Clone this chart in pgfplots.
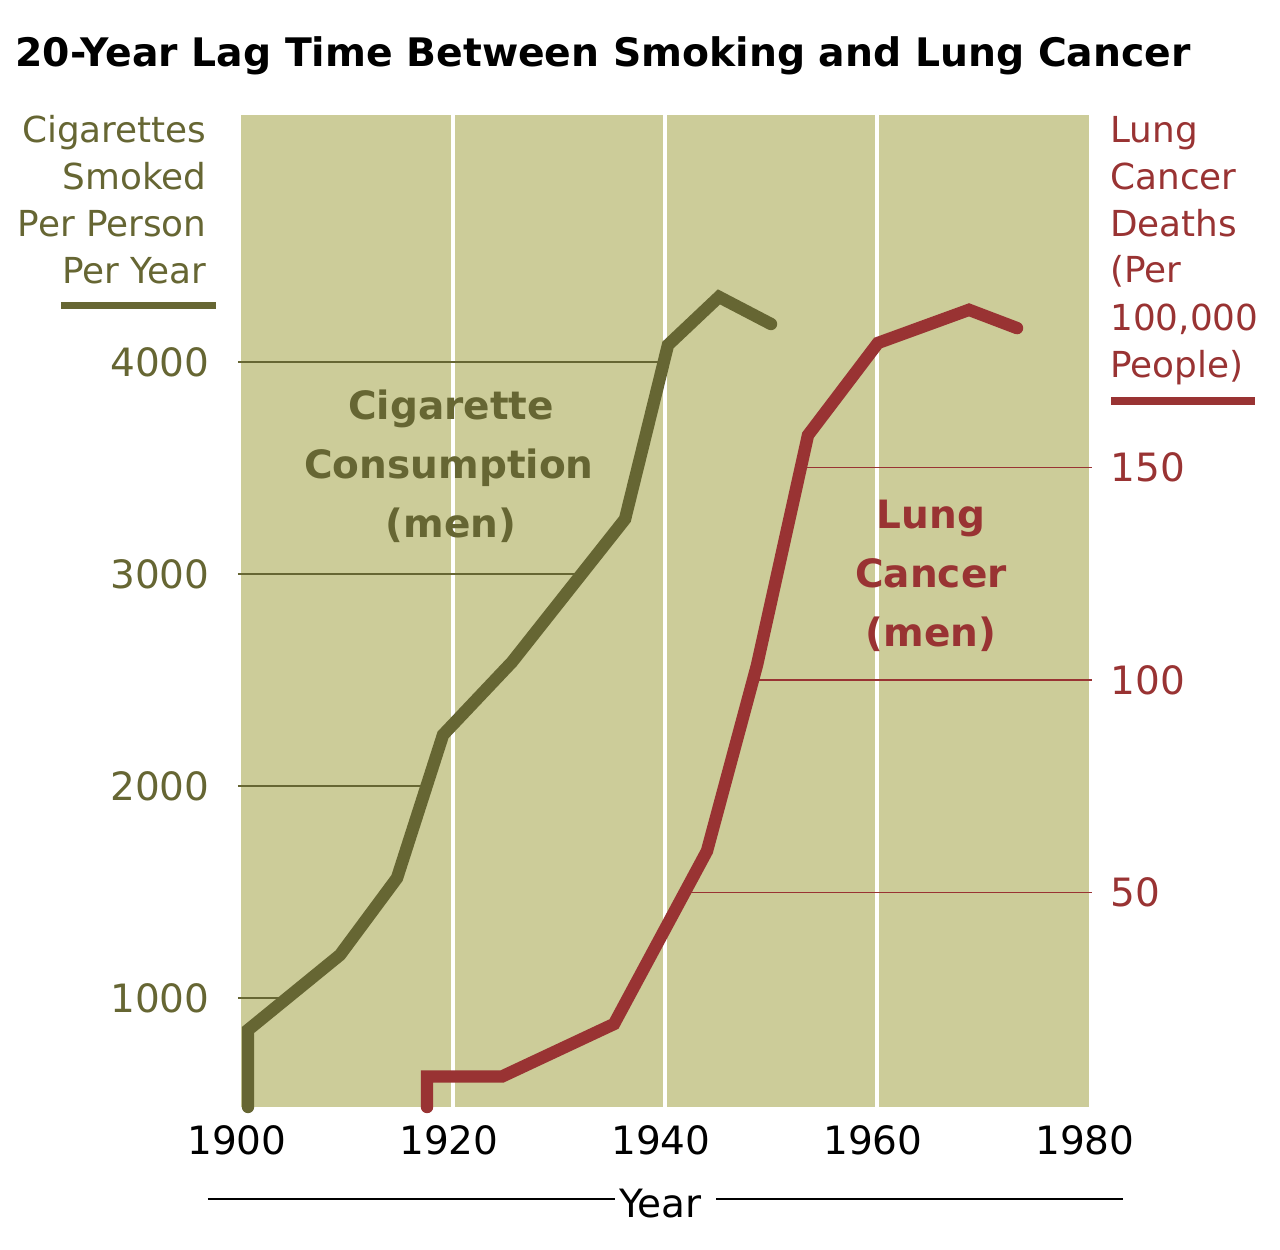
\documentclass[border=0pt]{standalone}
\usepackage{pgfplots}
\pgfplotsset{compat=1.18}
\usepackage{fontspec}
\setmainfont{DejaVu Sans}
\definecolor{bg}{HTML}{CCCC99}
\definecolor{olive}{HTML}{666633}
\definecolor{brick}{HTML}{993333}
\newcommand{\fs}{\fontsize{19.5}{23.5}\selectfont}
\newcommand{\ft}{\fontsize{19.65}{23.5}\selectfont}
\newcommand{\fa}{\fontsize{17.9}{23.5}\selectfont}

\begin{document}
\begin{tikzpicture}
\useasboundingbox (-120.5pt,-71pt) rectangle (519.5pt,553.5pt);
\begin{axis}[
  scale only axis, width=424pt, height=496pt,
  xmin=1900, xmax=1980, ymin=485.8, ymax=5165,
  clip=false,
  axis line style={draw=none},
  tick style={draw=none},
  major tick length=0pt,
  axis background/.style={fill=bg},
  xtick={1900,1920,1940,1960,1980},
  xticklabels={1900,1920,1940,1960,1980},
  xticklabel style={font=\fs, anchor=base, inner sep=0pt, yshift=-23.5pt, xshift=-2pt},
  ytick={1000,2000,3000,4000},
  yticklabels={1000,2000,3000,4000},
  yticklabel style={font=\fs, text=olive, anchor=east, inner sep=0pt, xshift=-15.5pt},
]
\addplot[white, line width=2pt] coordinates {(1920,485.8) (1920,5165)};
\addplot[white, line width=2pt] coordinates {(1940,485.8) (1940,5165)};
\addplot[white, line width=2pt] coordinates {(1960,485.8) (1960,5165)};
\addplot[olive, line width=0.8pt] coordinates {(1899.7,1000) (1904.4,1000)};
\addplot[olive, line width=0.8pt] coordinates {(1899.7,2000) (1917.6,2000)};
\addplot[olive, line width=0.8pt] coordinates {(1899.7,3000) (1932.2,3000)};
\addplot[olive, line width=0.8pt] coordinates {(1899.7,4000) (1940.0,4000)};
\addplot[olive, line width=6.2pt, line cap=round, line join=miter] coordinates {
 (1900.66,486) (1900.66,849) (1909.34,1203) (1914.72,1566) (1919.06,2241)
 (1925.57,2585) (1936.23,3259) (1940.28,4080) (1945.09,4307) (1950.0,4179)};
\end{axis}
\begin{axis}[
  scale only axis, width=424pt, height=496pt,
  xmin=1900, xmax=1980, ymin=-0.47, ymax=232.94,
  clip=false,
  axis line style={draw=none},
  tick style={draw=none},
  major tick length=0pt,
  xtick=\empty,
  ytick={50,100,150},
  yticklabels={50,100,150},
  yticklabel pos=right,
  yticklabel style={font=\fs, text=brick, anchor=west, inner sep=0pt, xshift=10.5pt},
]
\addplot[brick, line width=0.8pt] coordinates {(1941.9,50) (1980.3,50)};
\addplot[brick, line width=0.8pt] coordinates {(1948.3,100) (1980.3,100)};
\addplot[brick, line width=0.8pt] coordinates {(1952.9,150) (1980.3,150)};
\addplot[brick, line width=6.2pt, line cap=round, line join=miter] coordinates {
 (1917.55,-0.47) (1917.55,6.7) (1924.62,6.7) (1935.19,19.06) (1943.96,59.76)
 (1948.68,103.5) (1953.49,157.6) (1960.09,179.3) (1968.68,187.1) (1973.21,182.8)};
\end{axis}

\node[anchor=base west, inner sep=0pt, font=\bfseries\ft] at (-113pt,520pt) {20-Year Lag Time Between Smoking and Lung Cancer};

\begin{scope}[every node/.style={anchor=base east, inner sep=0pt, font=\fa, text=olive}]
\node at (-17pt,482pt) {Cigarettes};
\node at (-17pt,458.5pt) {Smoked};
\node at (-17pt,435pt) {Per Person};
\node at (-17pt,411.5pt) {Per Year};
\end{scope}
\draw[olive, line width=3.75pt] (-90pt,400.75pt) -- (-12.5pt,400.75pt);

\begin{scope}[every node/.style={anchor=base west, inner sep=0pt, font=\fa, text=brick}]
\node at (434.5pt,482pt) {Lung};
\node at (434.5pt,458.5pt) {Cancer};
\node at (434.5pt,435pt) {Deaths};
\node at (434.5pt,412pt) {(Per};
\node at (434.5pt,388pt) {100,000};
\node at (434.5pt,364.5pt) {People)};
\end{scope}
\draw[brick, line width=4pt] (435pt,353pt) -- (507pt,353pt);

\begin{scope}[every node/.style={anchor=base, inner sep=0pt, font=\bfseries\fs, text=olive}]
\node at (105pt,343.5pt) {Cigarette};
\node at (104pt,314pt) {Consumption};
\node at (105pt,284.5pt) {(men)};
\end{scope}
\begin{scope}[every node/.style={anchor=base, inner sep=0pt, font=\bfseries\fs, text=brick}]
\node at (345pt,289pt) {Lung};
\node at (345pt,259.5pt) {Cancer};
\node at (345pt,230pt) {(men)};
\end{scope}

\node[anchor=base, inner sep=0pt, font=\fs] at (209.75pt,-55pt) {Year};
\draw[black, line width=1pt] (-16.5pt,-46pt) -- (187pt,-46pt);
\draw[black, line width=1pt] (237.5pt,-46pt) -- (441pt,-46pt);
\end{tikzpicture}
\end{document}
